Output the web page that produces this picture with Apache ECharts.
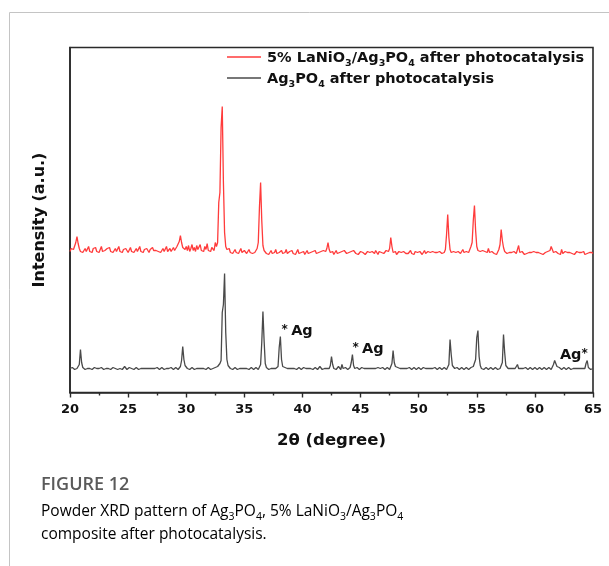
<!DOCTYPE html>
<html>
<head>
<meta charset="utf-8">
<script src="https://cdn.jsdelivr.net/npm/echarts@6/dist/echarts.min.js"></script>
<style>
  html, body { margin: 0; padding: 0; background: #ffffff; }
  #chart { width: 609px; height: 566px; }
</style>
</head>
<body>
<div id="chart"></div>
<script>
// Powder XRD scans, 2θ from 20° to 65° in 0.1° steps (intensity in a.u.)
const START_ANGLE = 20;
const STEP = 0.1;

// 5% LaNiO3/Ag3PO4 after photocatalysis (stacked, offset above)
const compositeCounts = [
  141,144,142,143,145,150,156,149,144,141,
  143,140,142,144,141,143,146,141,142,140,
  144,142,145,141,143,140,142,146,141,143,
  142,140,144,142,145,141,143,140,142,144,
  141,143,146,141,142,140,143,141,144,142,
  140,142,145,141,143,140,142,144,141,143,
  146,141,142,140,143,141,144,142,140,143,
  141,145,142,140,142,144,141,143,140,142,
  144,141,143,146,141,142,144,141,143,145,
  142,144,146,148,151,157,150,145,147,143,
  146,142,147,141,144,148,142,145,141,147,
  143,145,148,142,144,141,146,143,149,142,
  144,141,145,143,142,150,146,150,190,200,
  265,286,210,160,146,143,141,144,140,142,
  139,141,143,140,142,139,141,144,140,141,
  142,140,139,141,143,140,142,139,141,140,
  142,144,150,185,210,172,147,142,140,139,
  141,138,140,142,139,141,140,143,139,141,
  140,138,142,139,141,140,143,139,138,141,
  140,142,139,141,138,140,143,139,141,140,
  139,141,138,140,142,139,141,140,138,141,
  140,142,139,141,140,138,141,139,142,140,
  141,144,150,143,140,139,141,138,140,142,
  139,141,140,138,141,139,142,140,139,141,
  140,138,141,139,142,140,139,141,138,140,
  141,139,140,142,138,140,141,139,140,138,
  141,140,139,142,140,138,141,139,140,141,
  139,140,142,140,141,144,155,146,140,139,
  141,138,140,141,139,140,138,141,140,139,
  141,139,140,142,139,140,138,141,139,140,
  139,141,140,138,140,142,139,140,141,139,
  140,138,141,139,140,142,140,139,141,140,
  139,141,140,143,158,178,155,143,140,139,
  141,139,140,138,141,140,139,141,143,140,
  142,141,139,140,142,146,150,172,187,162,
  146,142,140,141,139,142,140,141,139,140,
  144,140,139,141,140,139,141,138,140,143,
  148,163,152,145,141,140,139,141,140,139,
  140,139,141,140,139,140,147,140,139,141,
  140,138,140,139,141,140,138,140,139,141,
  139,140,138,140,141,139,140,138,139,140,
  139,141,140,142,146,143,140,139,141,140,
  139,140,138,143,139,140,141,139,140,138,
  140,142,139,140,138,140,141,139,140,138,
  140,139,141,138,140,139,141,140,138,140,
  139
];

// Ag3PO4 after photocatalysis
const pristineCounts = [
  24,23,25,24,23,25,24,23,28,43,
  30,25,24,23,25,24,23,24,25,23,
  24,25,23,24,25,24,23,25,24,23,
  25,24,23,24,26,23,24,25,23,24,
  25,23,24,24,25,23,24,26,24,23,
  24,25,23,24,25,23,24,25,24,23,
  25,24,23,24,25,24,23,24,25,24,
  23,24,25,24,23,25,24,23,24,25,
  24,23,25,24,26,24,23,25,24,23,
  24,25,24,23,25,26,32,46,33,27,
  26,24,25,23,24,25,24,23,25,24,
  23,24,25,24,23,24,25,23,24,25,
  24,23,25,24,26,25,24,26,27,29,
  32,80,88,119,60,33,27,25,24,25,
  23,24,25,24,23,25,24,23,24,25,
  24,23,24,25,23,24,25,24,23,24,
  25,24,23,25,28,50,81,52,29,25,
  24,23,25,24,23,24,25,24,23,26,
  45,56,33,26,24,25,23,24,26,24,
  23,24,25,24,26,23,24,25,24,23,
  24,25,23,24,25,24,23,24,25,23,
  24,25,24,23,24,26,24,23,25,24,
  23,24,25,24,27,36,28,24,25,23,
  24,26,24,23,28,24,23,25,24,23,
  24,25,30,38,27,24,23,25,24,23,
  24,25,23,24,25,24,23,24,25,24,
  23,24,25,24,23,25,24,24,23,25,
  24,23,24,25,24,23,25,29,42,30,
  26,24,25,23,24,25,24,23,24,25,
  24,23,25,24,23,24,25,24,23,24,
  25,24,23,24,25,23,24,25,24,23,
  24,25,24,23,25,24,23,24,25,24,
  23,24,25,24,23,25,28,53,38,27,
  25,24,23,25,24,23,24,25,24,23,
  24,25,24,23,24,25,24,26,28,33,
  55,62,36,27,24,25,23,24,25,24,
  23,24,25,24,23,24,25,24,23,25,
  24,26,30,58,40,27,25,24,23,24,
  25,24,23,24,25,28,24,23,24,25,
  24,23,25,24,23,24,25,24,23,24,
  25,24,23,24,25,24,23,24,25,24,
  23,24,25,24,23,25,28,32,30,26,
  24,25,24,23,24,25,24,23,24,25,
  24,23,25,24,23,24,25,24,23,24,
  25,24,23,24,29,32,25,24,23,24,
  24
];

// Metallic Ag reflections marked on the Ag3PO4 pattern: [2θ, label height, text, alignment]
const agMarks = [
  [38.2, 61, '{st|*} {t|Ag}', 'left'],
  [44.3, 43, '{st|*} {t|Ag}', 'left'],
  [64.55, 37, '{t|Ag}{st|*}', 'right']
];

const AXIS_MIN = 20, AXIS_MAX = 65, AXIS_STEP = 5;

const SERIES_COMPOSITE = '5% LaNiO3/Ag3PO4 after photocatalysis';
const SERIES_PRISTINE = 'Ag3PO4 after photocatalysis';

function toPairs(counts) {
  return counts.map((v, i) => [+(START_ANGLE + i * STEP).toFixed(1), v]);
}

const FONT = '"DejaVu Sans", "Liberation Sans", sans-serif';
const CAPTION_FONT = '"Open Sans", "Noto Sans", sans-serif';

const chart = echarts.init(document.getElementById('chart'), null, { renderer: 'canvas' });

const legendRich = {
  b: { fontSize: 14.5, fontWeight: 'bold', fontFamily: FONT, color: '#111', lineHeight: 18, verticalAlign: 'bottom' },
  s: { fontSize: 9.5, fontWeight: 'bold', fontFamily: FONT, color: '#111', lineHeight: 18, verticalAlign: 'bottom', padding: [0, 0, -3, 0] }
};

const capRich = {
  n: { fontSize: 15.5, fontFamily: CAPTION_FONT, color: '#7a7a7a', lineHeight: 20, verticalAlign: 'bottom' },
  s: { fontSize: 10.5, fontFamily: CAPTION_FONT, color: '#7a7a7a', lineHeight: 20, verticalAlign: 'bottom', padding: [0, 0, -3, 0] }
};

const option = {
  backgroundColor: '#ffffff',
  animation: false,
  grid: {
    left: 70, right: 16, top: 47.5, bottom: 173.5,
    show: true, borderColor: '#2a2a2a', borderWidth: 1.6, backgroundColor: 'transparent'
  },
  legend: {
    orient: 'vertical',
    left: 222, top: 46,
    itemWidth: 34, itemHeight: 1.5, itemGap: 3,
    icon: 'rect',
    data: [SERIES_COMPOSITE, SERIES_PRISTINE],
    formatter: function (name) {
      if (name === SERIES_COMPOSITE) {
        return '{b|5% LaNiO}{s|3}{b|/Ag}{s|3}{b|PO}{s|4}{b| after photocatalysis}';
      }
      return '{b|Ag}{s|3}{b|PO}{s|4}{b| after photocatalysis}';
    },
    textStyle: { rich: legendRich, padding: [0, 0, 0, 1] }
  },
  xAxis: {
    type: 'value',
    min: AXIS_MIN, max: AXIS_MAX, interval: AXIS_STEP,
    name: '2θ (degree)',
    nameLocation: 'middle',
    nameGap: 40,
    nameTextStyle: { fontSize: 16.5, fontWeight: 'bold', fontFamily: FONT, color: '#111' },
    axisLine: { show: true, lineStyle: { color: '#2a2a2a', width: 1.6 } },
    axisTick: { show: true, inside: false, length: 5, lineStyle: { color: '#2a2a2a', width: 1.4 } },
    minorTick: { show: true, splitNumber: 2, length: 3, lineStyle: { color: '#2a2a2a', width: 1.4 } },
    splitLine: { show: false },
    axisLabel: { fontSize: 13, fontWeight: 'bold', fontFamily: FONT, color: '#111', margin: 11 }
  },
  yAxis: {
    type: 'value',
    min: 0, max: 345,
    name: 'Intensity (a.u.)',
    nameLocation: 'middle',
    nameGap: 22,
    nameTextStyle: { fontSize: 16, fontWeight: 'bold', fontFamily: FONT, color: '#111' },
    axisLine: { show: true, lineStyle: { color: '#2a2a2a', width: 1.6 } },
    axisTick: { show: false },
    axisLabel: { show: false },
    splitLine: { show: false }
  },
  series: [
    {
      name: SERIES_COMPOSITE,
      type: 'line',
      data: toPairs(compositeCounts),
      showSymbol: false,
      color: '#ff3b3b',
      lineStyle: { width: 1.3, color: '#ff3b3b' }
    },
    {
      name: SERIES_PRISTINE,
      type: 'line',
      data: toPairs(pristineCounts),
      showSymbol: false,
      color: '#4a4a4a',
      lineStyle: { width: 1.3, color: '#4a4a4a' },
      markPoint: {
        symbol: 'circle',
        symbolSize: 1,
        itemStyle: { color: 'rgba(0,0,0,0)' },
        label: {
          show: true,
          position: 'inside',
          formatter: function (p) { return p.data.text; },
          rich: {
            st: { fontSize: 12, fontWeight: 'bold', fontFamily: FONT, color: '#111', verticalAlign: 'top', lineHeight: 16 },
            t: { fontSize: 14.5, fontWeight: 'bold', fontFamily: FONT, color: '#111', lineHeight: 16 }
          }
        },
        data: agMarks.map(m => ({
          coord: [m[0], m[1]],
          text: m[2],
          label: { align: m[3] }
        }))
      }
    }
  ],
  graphic: [
    // page frame lines
    { type: 'line', shape: { x1: 9.5, y1: 12.5, x2: 609, y2: 12.5 }, style: { stroke: '#c4c4c4', lineWidth: 1 } },
    { type: 'line', shape: { x1: 9.5, y1: 12.5, x2: 9.5, y2: 566 }, style: { stroke: '#c4c4c4', lineWidth: 1 } },
    // caption
    {
      type: 'text', left: 41, top: 476,
      style: { text: 'FIGURE 12', fontSize: 18, fontWeight: 600, fontFamily: CAPTION_FONT, fill: '#5a5a5a' }
    },
    {
      type: 'text', left: 41, top: 504,
      style: {
        text: '{n|Powder XRD pattern of Ag}{s|3}{n|PO}{s|4}{n|, 5% LaNiO}{s|3}{n|/Ag}{s|3}{n|PO}{s|4}',
        rich: capRich
      }
    },
    {
      type: 'text', left: 41, top: 527,
      style: { text: '{n|composite after photocatalysis.}', rich: capRich }
    }
  ]
};

chart.setOption(option);
</script>
</body>
</html>
